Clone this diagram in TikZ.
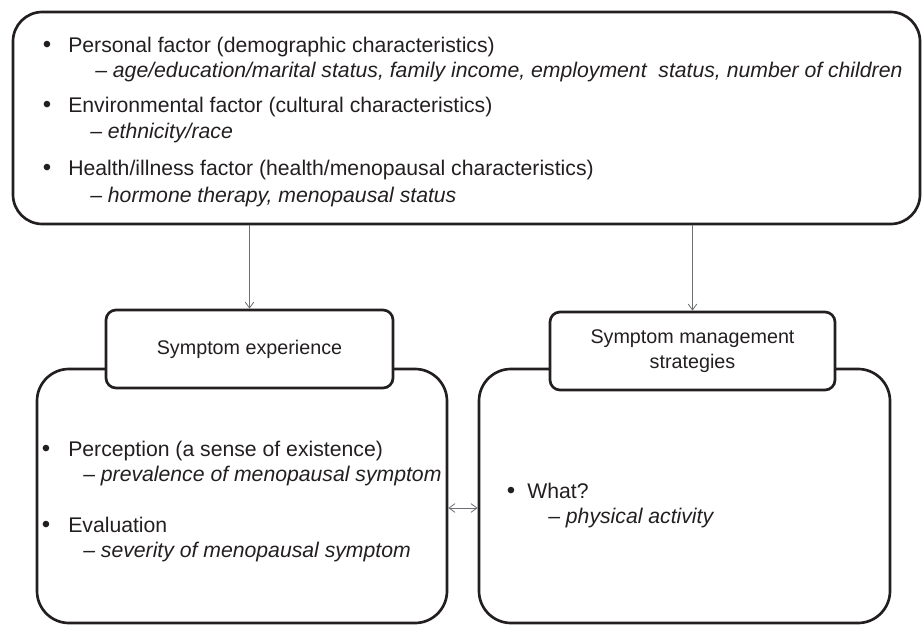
\documentclass[tikz,border=0pt]{standalone}
\usepackage{fontspec}
\setmainfont{Liberation Sans}
\usetikzlibrary{arrows.meta}
\definecolor{ink}{HTML}{231F20}
\definecolor{arrowgray}{HTML}{6D6E71}
\begin{document}
\begin{tikzpicture}[x=0.75pt,y=-0.75pt,
  txt/.style={anchor=base west, inner sep=0pt, text=ink, font=\fontsize{15.9}{19}\selectfont},
  itx/.style={anchor=base west, inner sep=0pt, text=ink, font=\fontsize{15.9}{19}\selectfont\itshape},
  bul/.style={anchor=base, inner sep=0pt, text=ink, font=\fontsize{18}{19}\selectfont},
  bigbox/.style={draw=ink, line width=2pt, rounded corners=24pt, inner sep=0pt},
  topbox/.style={draw=ink, line width=2pt, rounded corners=22pt, inner sep=0pt},
  labelbox/.style={draw=ink, line width=2pt, rounded corners=7.5pt, fill=white, inner sep=0pt,
    align=center, text=ink, font=\fontsize{14.8}{19}\selectfont},
  arr/.style={draw=arrowgray, line width=0.6pt, -{Straight Barb[length=4.5pt,width=6.5pt]}},
  darr/.style={draw=arrowgray, line width=0.6pt, {Straight Barb[length=4.5pt,width=6.5pt]}-{Straight Barb[length=4.5pt,width=6.5pt]}}
]
\useasboundingbox (0,0) rectangle (922,625);
\clip (0,0) rectangle (922,625);

% top box
\node[topbox, minimum width=680.25pt, minimum height=159pt] (top) at (466.5,118) {};
\node[bul] (b1) at (47,52) {\textbullet};
\node[txt] (t1) at (68,52) {Personal factor (demographic characteristics)};
\node[itx] (t2) at (95,77) {-- age/education/marital status, family income, employment\ \ status, number of children};
\node[bul] (b3) at (47,112) {\textbullet};
\node[txt] (t3) at (68,112) {Environmental factor (cultural characteristics)};
\node[itx] (t4) at (90,138) {-- ethnicity/race};
\node[bul] (b5) at (47,175) {\textbullet};
\node[txt] (t5) at (68,175) {Health/illness factor (health/menopausal characteristics)};
\node[itx] (t6) at (90,202) {-- hormone therapy, menopausal status};

% big boxes
\node[bigbox, minimum width=307.5pt, minimum height=190.5pt] (lb) at (242,496) {};
\node[bigbox, minimum width=308.25pt, minimum height=190.5pt] (rb) at (684.5,496) {};

% label boxes
\node[labelbox, minimum width=215.25pt, minimum height=58.5pt] (ll) at (249.5,349) {Symptom experience};
\node[labelbox, minimum width=213.75pt, minimum height=58.5pt] (rl) at (692.5,351) {Symptom management\\strategies};

% left box text
\node[bul] (lb1) at (46,456) {\textbullet};
\node[txt] (lt1) at (68,456) {Perception (a sense of existence)};
\node[itx] (lt2) at (83,481) {-- prevalence of menopausal symptom};
\node[bul] (lb3) at (46,532) {\textbullet};
\node[txt] (lt3) at (68,532) {Evaluation};
\node[itx] (lt4) at (83,557) {-- severity of menopausal symptom};

% right box text
\node[bul] (rb1) at (511,498) {\textbullet};
\node[txt] (rt1) at (527,498) {What?};
\node[itx] (rt2) at (548,523) {-- physical activity};

% connectors
\draw[arr] (top.south -| ll.north) -- (ll.north);
\draw[arr] (top.south -| rl.north) -- (rl.north);
\draw[darr] ([yshift=-9pt]lb.east) -- ([yshift=-9pt]rb.west);
\end{tikzpicture}
\end{document}
